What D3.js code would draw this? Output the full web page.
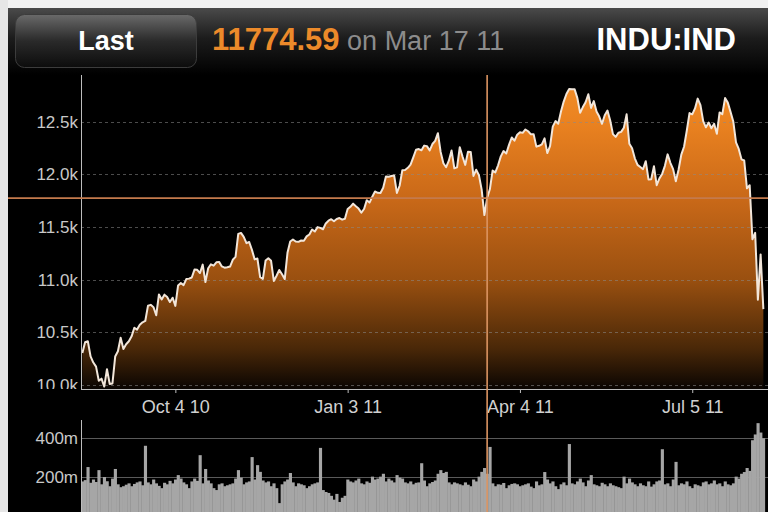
<!DOCTYPE html>
<html><head><meta charset="utf-8">
<script src="https://cdn.jsdelivr.net/npm/d3@7"></script>
<style>html,body{margin:0;padding:0;background:#000;} svg{display:block;}</style>
</head><body>
<svg id="c" width="768" height="512"></svg>
<script>
// ---- data: DJIA (INDU:IND) daily closes and volume (millions), trading days ----
const months = ["2010-08","2010-09","2010-10","2010-11","2010-12","2011-01","2011-02","2011-03","2011-04","2011-05","2011-06","2011-07","2011-08"];
const days = [
  [16,17,18,19,20,23,24,25,26,27,30,31],
  [1,2,3,7,8,9,10,13,14,15,16,17,20,21,22,23,24,27,28,29,30],
  [1,4,5,6,7,8,11,12,13,14,15,18,19,20,21,22,25,26,27,28,29],
  [1,2,3,4,5,8,9,10,11,12,15,16,17,18,19,22,23,24,26,29,30],
  [1,2,3,6,7,8,9,10,13,14,15,16,17,20,21,22,23,27,28,29,30,31],
  [3,4,5,6,7,10,11,12,13,14,18,19,20,21,24,25,26,27,28,31],
  [1,2,3,4,7,8,9,10,11,14,15,16,17,18,22,23,24,25,28],
  [1,2,3,4,7,8,9,10,11,14,15,16,17,18,21,22,23,24,25,28,29,30,31],
  [1,4,5,6,7,8,11,12,13,14,15,18,19,20,21,25,26,27,28,29],
  [2,3,4,5,6,9,10,11,12,13,16,17,18,19,20,23,24,25,26,27,31],
  [1,2,3,6,7,8,9,10,13,14,15,16,17,20,21,22,23,24,27,28,29,30],
  [1,5,6,7,8,11,12,13,14,15,18,19,20,21,22,25,26,27,28,29],
  [1,2,3,4,5,8,9,10]
];
const closes = [
  [10303,10406,10415,10271,10213,10174,10040,10060,9985,10150,10010,10015],
  [10270,10320,10448,10341,10387,10415,10462,10544,10526,10572,10595,10608,10753,10761,10739,10662,10860,10812,10858,10835,10788],
  [10829,10751,10945,10968,10948,11006,11010,11021,11096,11094,11063,11143,10978,11108,11146,11133,11165,11169,11126,11114,11118],
  [11125,11189,11216,11435,11444,11406,11347,11358,11283,11193,11201,11024,11008,11182,11204,11179,10988,11037,11092,11052,11006],
  [11255,11362,11382,11362,11359,11372,11370,11411,11429,11476,11457,11499,11492,11479,11534,11560,11574,11555,11576,11585,11570,11578],
  [11671,11692,11722,11697,11675,11637,11671,11755,11732,11787,11837,11825,11823,11872,11980,11978,11985,11990,11824,11892],
  [12040,12042,12062,12092,12161,12234,12240,12229,12273,12268,12227,12288,12318,12391,12213,12106,12068,12130,12226],
  [12058,12066,12258,12170,12090,12214,12213,11985,12044,11993,11855,11613,11775,11858,12036,12019,12086,12171,12221,12198,12280,12350,12320],
  [12377,12400,12394,12426,12409,12380,12382,12263,12271,12285,12342,12202,12267,12453,12506,12480,12596,12691,12763,12811],
  [12808,12807,12724,12584,12639,12685,12761,12631,12696,12596,12549,12480,12561,12606,12512,12382,12356,12395,12403,12442,12570],
  [12290,12248,12152,12090,12070,12049,12125,11952,11953,12077,11897,11962,12004,12081,12190,12110,12050,11934,12044,12188,12262,12414],
  [12582,12570,12626,12719,12658,12506,12447,12492,12438,12480,12385,12588,12572,12724,12681,12593,12502,12303,12241,12143],
  [12132,11867,11897,11384,11445,10810,11240,10720]
];
const volumes = [
  [175,182,250,168,185,172,234,160,198,176,150,190],
  [240,160,145,150,158,165,150,162,170,175,155,361,170,160,185,165,152,140,168,160,178],
  [165,185,208,190,170,160,140,175,190,178,312,165,240,180,165,140,130,160,165,150,155],
  [160,165,190,234,195,160,170,175,302,185,260,225,180,170,175,150,165,140,62,160,175],
  [185,219,170,150,165,160,155,140,150,160,165,170,350,130,120,115,100,80,110,68,90,100],
  [185,175,170,180,190,165,160,175,168,200,185,190,200,215,175,190,180,170,208,195],
  [190,170,165,175,160,168,170,270,180,150,165,172,180,215,234,219,225,170,160],
  [170,165,160,155,170,158,150,185,175,200,225,245,215,355,165,150,160,158,167,140,155,162,165],
  [160,150,155,160,165,148,140,175,155,160,224,185,165,175,150,135,160,170,155,370],
  [165,160,175,190,170,150,180,208,160,155,150,168,160,150,165,155,150,145,140,200,165],
  [190,170,160,150,165,155,150,175,148,160,175,180,343,160,165,150,185,277,155,165,160,175],
  [150,140,160,155,150,170,175,160,165,180,160,165,150,175,160,155,165,200,190,215],
  [224,245,230,390,420,479,430,400]
];
const priceTicks = [10000,10500,11000,11500,12000,12500];
const priceTickLabels = ["10.0k","10.5k","11.0k","11.5k","12.0k","12.5k"];
const volTicks = [200,400];
const volTickLabels = ["200m","400m"];
const dateTicks = ["2010-10-04","2011-01-03","2011-04-04","2011-07-05"];
const dateTickLabels = ["Oct 4 10","Jan 3 11","Apr 4 11","Jul 5 11"];
const selDate = "2011-03-17";
const selValue = 11774.59;
const titleLast = "Last";
const titleValue = "11774.59";
const titleOn = " on Mar 17 11";
const titleTicker = "INDU:IND";

// ---- build rows ----
const rows = [];
months.forEach((m,mi)=>{
  days[mi].forEach((d,di)=>{
    rows.push({date: m + "-" + String(d).padStart(2,"0"), close: closes[mi][di], vol: volumes[mi][di]});
  });
});
rows.forEach((r,i)=>r.i=i);
const idxOf = ds => rows.findIndex(r=>r.date===ds);

const W = 768, H = 512;
const left = 81, right = 768;
const pTop = 75, pBot = 389;
const svg = d3.select("#c");
const FONT = "'Liberation Sans', Arial, Helvetica, sans-serif";

const x = d3.scaleLinear().domain([-0.5, rows.length + 0.7]).range([left, right]);
const y = d3.scaleLinear().domain([10000, 12500]).range([385, 121.7]);
const yv = d3.scaleLinear().domain([0, 400]).range([515, 438.3]);

const defs = svg.append("defs");
const hg = defs.append("linearGradient").attr("id","hg").attr("x1",0).attr("y1",0).attr("x2",0).attr("y2",1);
hg.append("stop").attr("offset","0%").attr("stop-color","#4a4a4a");
hg.append("stop").attr("offset","45%").attr("stop-color","#1c1c1c");
hg.append("stop").attr("offset","100%").attr("stop-color","#000");
const bg = defs.append("linearGradient").attr("id","bg").attr("x1",0).attr("y1",0).attr("x2",0).attr("y2",1);
bg.append("stop").attr("offset","0%").attr("stop-color","#6a6a6a");
bg.append("stop").attr("offset","50%").attr("stop-color","#2a2a2a");
bg.append("stop").attr("offset","100%").attr("stop-color","#0c0c0c");
const ag = defs.append("linearGradient").attr("id","ag").attr("gradientUnits","userSpaceOnUse")
  .attr("x1",0).attr("x2",0).attr("y1",pTop).attr("y2",pBot);
[[0,"#f4902a"],[0.15,"#ea8220"],[0.40,"#c86818"],[0.65,"#9a5010"],[0.87,"#4a2808"],[1,"#0a0502"]]
  .forEach(s=>ag.append("stop").attr("offset",s[0]).attr("stop-color",s[1]));
defs.append("clipPath").attr("id","pclip").append("rect").attr("x",left).attr("y",pTop).attr("width",right-left).attr("height",pBot-pTop);
defs.append("clipPath").attr("id","lclip").append("rect").attr("x",0).attr("y",pTop).attr("width",left).attr("height",pBot-pTop);
defs.append("clipPath").attr("id","vclip").append("rect").attr("x",left).attr("y",420).attr("width",right-left).attr("height",H-420);

// background
svg.append("rect").attr("width",W).attr("height",H).attr("fill","#000");
svg.append("rect").attr("x",0).attr("y",0).attr("width",W).attr("height",8).attr("fill","#f2f2f2");
svg.append("rect").attr("x",0).attr("y",0).attr("width",8).attr("height",H).attr("fill","#e6e6e6");
// header
svg.append("rect").attr("x",8).attr("y",8).attr("width",W-8).attr("height",67).attr("fill","url(#hg)");
svg.append("rect").attr("x",15.5).attr("y",14.5).attr("width",181).attr("height",53).attr("rx",9)
  .attr("fill","url(#bg)").attr("stroke","#3c3c3c").attr("stroke-width",1);
svg.append("text").attr("x",106).attr("y",50).attr("text-anchor","middle")
  .attr("font-family",FONT).attr("font-weight","bold").attr("font-size",27).attr("fill","#fff").text(titleLast);
const tv = svg.append("text").attr("x",212).attr("y",50).attr("font-family",FONT);
tv.append("tspan").attr("font-weight","bold").attr("font-size",31).attr("fill","#ec8a2a").text(titleValue);
tv.append("tspan").attr("font-size",27).attr("fill","#8c8c8c").text(titleOn);
svg.append("text").attr("x",736).attr("y",50).attr("text-anchor","end")
  .attr("font-family",FONT).attr("font-weight","bold").attr("font-size",31).attr("fill","#fff").text(titleTicker);

// ---- price pane ----
const area = d3.area().x(d=>x(d.i)).y0(pBot).y1(d=>y(d.close));
const line = d3.line().x(d=>x(d.i)).y(d=>y(d.close));
const pg = svg.append("g").attr("clip-path","url(#pclip)");
pg.append("path").datum(rows).attr("d",area).attr("fill","url(#ag)");
pg.selectAll("line.grid").data(priceTicks).join("line").attr("class","grid")
  .attr("x1",left).attr("x2",right).attr("y1",d=>Math.round(y(d))+0.5).attr("y2",d=>Math.round(y(d))+0.5)
  .attr("stroke","#8a8a8a").attr("stroke-opacity",0.55).attr("stroke-dasharray","3,3").attr("stroke-width",1);
pg.append("path").datum(rows).attr("d",line).attr("fill","none")
  .attr("stroke","#f2e6da").attr("stroke-width",2).attr("stroke-linejoin","round");

// y axis labels (clipped at bottom of the price pane)
const yAxis = d3.axisLeft(y).tickValues(priceTicks).tickSize(0).tickPadding(3)
  .tickFormat((d,i)=>priceTickLabels[i]);
const yClip = svg.append("g").attr("clip-path","url(#lclip)");
const ya = yClip.append("g").attr("transform",`translate(${left},0)`).call(yAxis);
ya.select(".domain").remove();
ya.selectAll("text").attr("font-family",FONT).attr("font-size",17).attr("fill","#c8c8c8");

svg.append("line").attr("x1",left+0.5).attr("x2",left+0.5).attr("y1",pTop).attr("y2",pBot).attr("stroke","#bdbdbd");
// x axis
const tickIdx = dateTicks.map(idxOf);
const xAxis = d3.axisBottom(x).tickValues(tickIdx).tickSize(4).tickPadding(7)
  .tickFormat((d,i)=>dateTickLabels[i]);
const xa = svg.append("g").attr("transform",`translate(0,${pBot})`).call(xAxis);
xa.select(".domain").attr("stroke","#bdbdbd").attr("d",`M${left},0.5H${right}`);
xa.selectAll(".tick line").attr("stroke","#bdbdbd");
xa.selectAll("text").attr("font-family",FONT).attr("font-size",18).attr("fill","#d0d0d0");

// ---- volume pane ----
const vg = svg.append("g").attr("clip-path","url(#vclip)");
vg.selectAll("line.vgrid").data(volTicks).join("line").attr("class","vgrid")
  .attr("x1",left).attr("x2",right).attr("y1",d=>Math.round(yv(d))+0.5).attr("y2",d=>Math.round(yv(d))+0.5)
  .attr("stroke","#5a5a5a").attr("stroke-width",1);
const bw = x(1)-x(0);
vg.selectAll("rect.bar").data(rows).join("rect").attr("class","bar")
  .attr("x",d=>x(d.i)-bw/2).attr("width",bw+0.4)
  .attr("y",d=>yv(d.vol)).attr("height",d=>H-yv(d.vol)+5)
  .attr("fill","#a6a6a6");
const vAxis = d3.axisLeft(yv).tickValues(volTicks).tickSize(0).tickPadding(3)
  .tickFormat((d,i)=>volTickLabels[i]);
const va = svg.append("g").attr("transform",`translate(${left},0)`).call(vAxis);
va.select(".domain").remove();
va.selectAll("text").attr("font-family",FONT).attr("font-size",17).attr("fill","#c8c8c8");
svg.append("line").attr("x1",left+0.5).attr("x2",left+0.5).attr("y1",420).attr("y2",H).attr("stroke","#bdbdbd");

// ---- crosshair ----
const sx = x(idxOf(selDate));
svg.append("line").attr("x1",8).attr("x2",right).attr("y1",y(selValue)).attr("y2",y(selValue))
  .attr("stroke","#c47a4c").attr("stroke-width",1.6);
svg.append("line").attr("x1",sx).attr("x2",sx).attr("y1",pTop).attr("y2",H)
  .attr("stroke","#dc9462").attr("stroke-width",1.6);
</script>
</body></html>
